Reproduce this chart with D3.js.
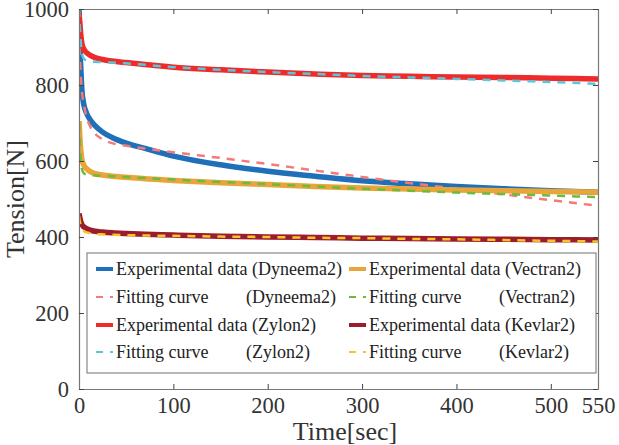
<!DOCTYPE html>
<html><head><meta charset="utf-8">
<script src="https://cdn.jsdelivr.net/npm/d3@7/dist/d3.min.js"></script>
<style>
body{margin:0;background:#fff;}
svg, svg text{font-family:"Liberation Serif",serif;}
</style></head>
<body><svg id="c" width="619" height="445"></svg>
<script>
const time = [0,1,2,3,5,8,12,17,25,35,50,70,100,150,200,250,300,350,400,450,500,550];
const dyneemaExp = [1000,900,840,790,750,726,708,693,676,662,647,633,613,590,573,560,548,540,533,527,522,518];
const dyneemaFit = [940,870,820,785,750,716,690,672,657,647,640,633,623,608,592,575,558,542,527,512,497,482];
const vectranExp = [705,660,625,605,590,580,572,567,563,560,557,553,549,543,538,533,529,526,524,522,520,518];
const vectranFit = [700,640,600,580,568,564,563,562,561,560,558,555,551,545,539,533,527,522,517,513,509,505];
const zylonExp = [990,960,930,910,895,885,878,872,867,863,859,854,847,840,834,829,825,823,821,820,818,816];
const zylonFit = [1000,950,910,885,870,864,862,861,860,859,857,853,847,840,834,829,824,820,816,812,808,803];
const kevlarExp = [462,450,440,433,427,422,418,415,413,411,409,407,405,402,400,399,397,396,395,394,393,392];
const kevlarFit = [455,440,430,423,416,412,410,408,407,406,405,404,403,401,400,398,397,395,394,392,390,388];

const xTicks = [0,100,200,300,400,500,550];
const yTicks = [0,200,400,600,800,1000];
const xLabel = "Time[sec]";
const yLabel = "Tension[N]";

const series = [
  {name:"Dyneema2", kind:"exp", values:dyneemaExp, color:"#1f70b8"},
  {name:"Dyneema2", kind:"fit", values:dyneemaFit, color:"#f47a7a"},
  {name:"Vectran2", kind:"exp", values:vectranExp, color:"#e8a53a"},
  {name:"Vectran2", kind:"fit", values:vectranFit, color:"#6cbb3c"},
  {name:"Zylon2", kind:"exp", values:zylonExp, color:"#ef2a2a"},
  {name:"Zylon2", kind:"fit", values:zylonFit, color:"#5cc6d8"},
  {name:"Kevlar2", kind:"exp", values:kevlarExp, color:"#9b1c2c"},
  {name:"Kevlar2", kind:"fit", values:kevlarFit, color:"#f7c52a"}
];
const legendOrder = [[0,1,4,5],[2,3,6,7]];

const FONT = '"Liberation Serif", serif';
const svg = d3.select("#c");
const L=79, R=598, T=9, B=389;
const x = d3.scaleLinear().domain([0,550]).range([L,R]);
const y = d3.scaleLinear().domain([0,1000]).range([B,T]);
const axisColor = "#777";
const textColor = "#333";

const g = svg.append("g");
g.append("defs").append("clipPath").attr("id","clip").append("rect")
  .attr("x",L).attr("y",T).attr("width",R-L).attr("height",B-T);

const line = d3.line().x((d,i)=>x(time[i])).y(d=>y(d)).curve(d3.curveMonotoneX);
const plot = g.append("g").attr("clip-path","url(#clip)");
series.forEach(s=>{
  plot.append("path").datum(s.values)
    .attr("d",line).attr("fill","none")
    .attr("stroke",s.color)
    .attr("stroke-width", s.kind==="exp"?5.5:2.5)
    .attr("stroke-dasharray", s.kind==="exp"?null:"8,7");
});

const tl = 5;
const fmt = d3.format("d");
const axB = g.append("g").attr("transform",`translate(0,${B})`)
  .call(d3.axisBottom(x).tickValues(xTicks).tickFormat(fmt).tickSizeInner(-tl).tickSizeOuter(0).tickPadding(8));
const axT = g.append("g").attr("transform",`translate(0,${T})`)
  .call(d3.axisTop(x).tickValues(xTicks).tickSizeInner(-tl).tickSizeOuter(0).tickFormat(""));
const axL = g.append("g").attr("transform",`translate(${L},0)`)
  .call(d3.axisLeft(y).tickValues(yTicks).tickFormat(fmt).tickSizeInner(-tl).tickSizeOuter(0).tickPadding(10));
const axR = g.append("g").attr("transform",`translate(${R},0)`)
  .call(d3.axisRight(y).tickValues(yTicks).tickSizeInner(-tl).tickSizeOuter(0).tickFormat(""));
[axB,axT,axL,axR].forEach(a=>{
  a.attr("font-family",FONT).attr("font-size",22);
  a.select(".domain").attr("stroke",axisColor).attr("stroke-width",1.2);
  a.selectAll(".tick line").attr("stroke","#444");
  a.selectAll(".tick text").attr("fill",textColor).attr("font-family",FONT).attr("font-size",22.5);
});
axB.selectAll(".tick text").attr("dy","0.71em");

g.append("text").attr("x",345).attr("y",440).attr("text-anchor","middle")
  .attr("font-family",FONT).attr("font-size",26)
  .attr("fill",textColor).text(xLabel);
g.append("text").attr("transform",`translate(24,${(T+B)/2}) rotate(-90)`)
  .attr("font-family",FONT).attr("font-size",26)
  .attr("text-anchor","middle").attr("fill",textColor).text(yLabel);

const lg = g.append("g");
lg.append("rect").attr("x",87).attr("y",253).attr("width",509).attr("height",120)
  .attr("fill","#fff").attr("stroke","#888").attr("stroke-width",1.2);
const rowY = [269,297,325,352];
const colX = [96,349];
const matX = [[254,246,254,246],[506,499,506,499]];
legendOrder.forEach((col,ci)=>{
  col.forEach((si,ri)=>{
    const s = series[si];
    const yy = rowY[ri];
    lg.append("line").attr("x1",colX[ci]).attr("x2",colX[ci]+17).attr("y1",yy).attr("y2",yy)
      .attr("stroke",s.color).attr("stroke-width",s.kind==="exp"?4:2)
      .attr("stroke-dasharray",s.kind==="exp"?null:"7,7");
    const t = lg.append("text").attr("y",yy).attr("dy","0.35em").attr("fill","#222")
      .attr("font-family",FONT).attr("font-size",18);
    if(s.kind==="exp"){
      t.attr("x",colX[ci]+20).text("Experimental data ("+s.name+")");
    } else {
      t.append("tspan").attr("x",colX[ci]+20).text("Fitting curve");
      t.append("tspan").attr("x",matX[ci][ri]).text("("+s.name+")");
    }
  });
});
</script></body></html>
